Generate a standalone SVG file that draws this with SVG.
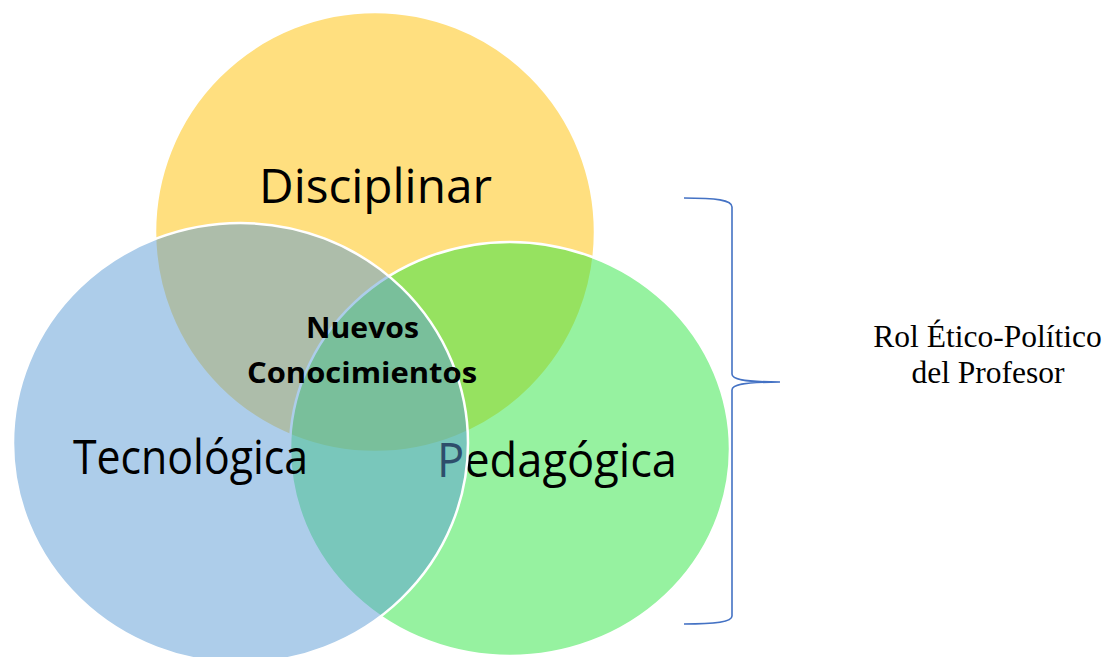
<svg xmlns="http://www.w3.org/2000/svg" width="1107" height="657" viewBox="0 0 1107 657">
<style>
.c{stroke:#fff;stroke-width:2.5}
.lbl{font-family:"Open Sans","Noto Sans",sans-serif;font-size:47px;fill:#000;text-anchor:middle}
.ctr{font-family:"Open Sans","Noto Sans",sans-serif;font-size:29px;font-weight:bold;fill:#000;text-anchor:middle}
.rol{font-family:"Liberation Serif","Times New Roman",serif;font-size:31.5px;fill:#000;text-anchor:middle}
.brace{fill:none;stroke:#4472C4;stroke-width:1.6}
</style>
<rect width="1107" height="657" fill="#fff"/>
<g id="disciplinar">
<circle class="c" cx="375" cy="232" r="220" fill="#FFC000" fill-opacity="0.5"/>
<text class="lbl" x="375.5" y="203" textLength="233" lengthAdjust="spacingAndGlyphs">Disciplinar</text>
</g>
<g id="pedagogica">
<ellipse class="c" cx="510" cy="449" rx="220" ry="207" fill="#2EE642" fill-opacity="0.5"/>
<text class="lbl" x="557" y="477" textLength="240" lengthAdjust="spacingAndGlyphs">Pedagógica</text>
</g>
<g id="tecnologica">
<ellipse class="c" cx="240.5" cy="443" rx="227.5" ry="220" fill="#5B9BD5" fill-opacity="0.5"/>
<text class="lbl" x="190.5" y="474" textLength="235" lengthAdjust="spacingAndGlyphs">Tecnológica</text>
</g>
<g id="nuevos">
<text class="ctr" x="362.5" y="338" textLength="113" lengthAdjust="spacingAndGlyphs">Nuevos</text>
<text class="ctr" x="362" y="383" textLength="230" lengthAdjust="spacingAndGlyphs">Conocimientos</text>
</g>
<g id="connectors">
<path class="brace" d="M684,198 C716,198 732,200 732,207 L732,374 C732,379 742,382 780,382 C742,382 732,385 732,390 L732,616 C732,622 716,624 684,624"/>
</g>
<g id="rol">
<text class="rol" x="987.5" y="347">Rol Ético-Político</text>
<text class="rol" x="988" y="383">del Profesor</text>
</g>
</svg>
